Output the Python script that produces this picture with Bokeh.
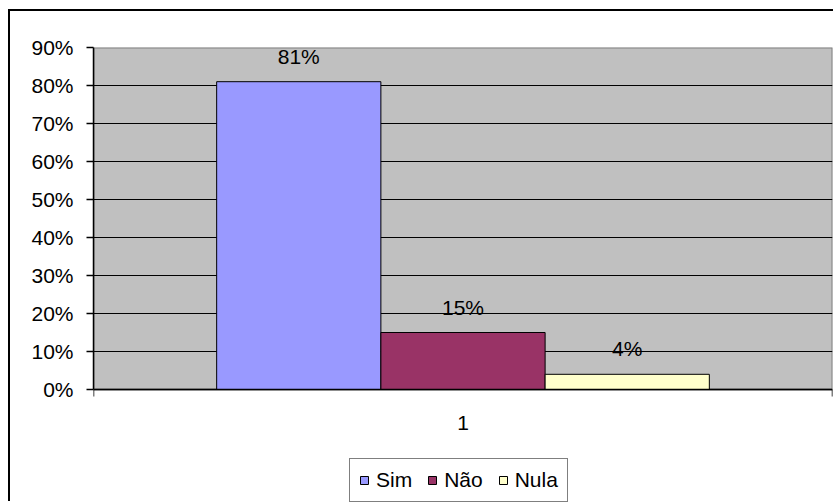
from bokeh.plotting import figure
from bokeh.models import (ColumnDataSource, FixedTicker, NumeralTickFormatter, Legend, LegendItem,
                          Range1d, LinearAxis)
from bokeh.core.properties import value
from bokeh.embed import file_html
from bokeh.resources import INLINE

# ---- data ----
categories = ["1"]
series = ["Sim", "Não", "Nula"]
values = [0.81, 0.15, 0.04]
value_labels = ["81%", "15%", "4%"]
colors = ["#9999FF", "#993366", "#FFFFCC"]
y_ticks = [0.0, 0.1, 0.2, 0.3, 0.4, 0.5, 0.6, 0.7, 0.8, 0.9]

FONT = "Liberation Sans"
FS = "21px"

n = len(series)
bar_w = 1.0 / (n + 1.5)  # gap width 150%
cat_center = categories.index("1") + 0.5
xs = [cat_center + (i - (n - 1) / 2) * bar_w for i in range(n)]
y_max = y_ticks[-1]
y_min = -0.30  # room below the plot area for category label and legend

src = ColumnDataSource(dict(x=xs, top=values, series=series, color=colors, label=value_labels))

p = figure(width=825, height=492, output_backend="svg", toolbar_location=None,
           x_range=Range1d(0, len(categories)), y_range=Range1d(y_min, y_max),
           x_axis_location=None,
           min_border_left=83, min_border_right=3, min_border_top=36, min_border_bottom=0)
p.styles = {"border-top": "2px solid black", "border-left": "2px solid black",
            "margin-left": "8px", "margin-top": "9px"}

p.background_fill_color = "white"
p.border_fill_color = "white"
p.outline_line_color = None

# plot area (gray) with gray border
p.quad(left=0, right=len(categories), bottom=0, top=y_max, fill_color="#C0C0C0",
       line_color="#808080", line_width=2, level="image")

r = p.vbar(x="x", top="top", width=bar_w, bottom=0, source=src,
           fill_color="color", line_color="black", line_width=1)

p.text(x="x", y="top", text="label", source=src, text_align="center", text_baseline="bottom",
       y_offset=-14, text_font=value(FONT), text_font_size=FS, text_color="black")

# y axis
p.yaxis.ticker = FixedTicker(ticks=y_ticks)
p.yaxis.formatter = NumeralTickFormatter(format="0%")
p.yaxis.bounds = (0, y_max)
p.yaxis.major_tick_out = 7
p.yaxis.major_tick_in = 0
p.yaxis.minor_tick_line_color = None
p.yaxis.axis_line_color = "black"
p.yaxis.axis_line_width = 1.5
p.yaxis.major_tick_line_width = 1.5
p.yaxis.major_label_text_font = FONT
p.yaxis.major_label_text_font_size = FS
p.yaxis.major_label_text_color = "black"
p.yaxis.major_label_standoff = 13

# x axis at y = 0
xaxis = LinearAxis(fixed_location=0,
                   ticker=FixedTicker(ticks=[cat_center], minor_ticks=[0, len(categories)]),
                   major_label_overrides={cat_center: categories[0]},
                   major_tick_out=0, major_tick_in=0,
                   minor_tick_out=7, minor_tick_in=0, minor_tick_line_width=1.5,
                   axis_line_color="black", axis_line_width=1.5,
                   major_label_text_font=FONT, major_label_text_font_size=FS,
                   major_label_text_color="black", major_label_standoff=19)
p.add_layout(xaxis, "below")

p.xgrid.grid_line_color = None
p.ygrid.ticker = FixedTicker(ticks=y_ticks[1:-1])
p.ygrid.grid_line_color = "black"
p.ygrid.grid_line_width = 1.2

items = [LegendItem(label=s, renderers=[r], index=i) for i, s in enumerate(series)]
legend = Legend(items=items, orientation="horizontal", location=(256, 1),
                label_text_font=FONT, label_text_font_size=FS, label_text_color="black",
                glyph_width=10, glyph_height=10, label_standoff=7, spacing=15,
                padding=9, label_height=20, border_line_color="black", border_line_width=1,
                background_fill_color="white", background_fill_alpha=1.0, margin=0)
p.add_layout(legend, "center")

open("out.html", "w").write(file_html(p, INLINE))
